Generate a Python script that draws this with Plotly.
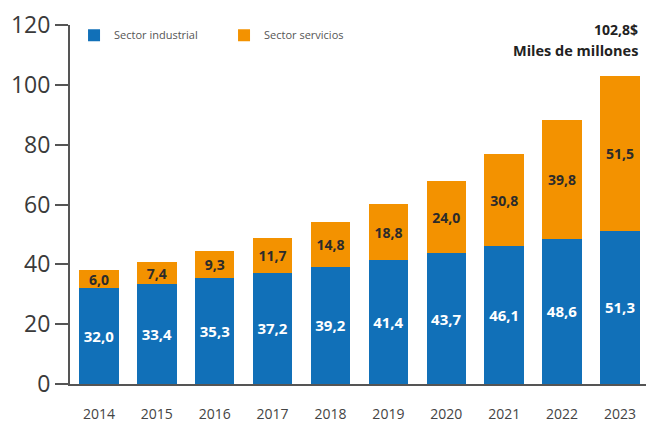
import plotly.graph_objects as go

years = ["2014", "2015", "2016", "2017", "2018", "2019", "2020", "2021", "2022", "2023"]
industrial = [32.0, 33.4, 35.3, 37.2, 39.2, 41.4, 43.7, 46.1, 48.6, 51.3]
servicios = [6.0, 7.4, 9.3, 11.7, 14.8, 18.8, 24.0, 30.8, 39.8, 51.5]
y_ticks = [0, 20, 40, 60, 80, 100, 120]

BLUE = "#1170b8"
ORANGE = "#f39200"
AXIS = "#555555"
FONT = "Open Sans"

total_last = industrial[-1] + servicios[-1]

fig = go.Figure()
fig.add_trace(go.Bar(
    x=years, y=industrial, name="Sector industrial",
    marker=dict(color=BLUE, line=dict(width=0)),
    texttemplate="%{y:.1f}", textposition="inside", insidetextanchor="middle",
    textangle=0, constraintext="none",
    textfont=dict(family=FONT, size=15, color="white", weight="bold"),
))
fig.add_trace(go.Bar(
    x=years, y=servicios, name="Sector servicios",
    marker=dict(color=ORANGE, line=dict(width=0)),
    texttemplate="%{y:.1f}", textposition="inside", insidetextanchor="middle",
    textangle=0, constraintext="none",
    textfont=dict(family=FONT, size=14, color="#2b2b2b", weight="bold"),
))

fig.update_layout(
    barmode="stack",
    bargap=0.32,
    width=646, height=423,
    margin=dict(l=70, r=0, t=25, b=39, autoexpand=False),
    paper_bgcolor="white", plot_bgcolor="white",
    separators=",.",
    font=dict(family=FONT, color="#444444"),
    showlegend=True,
    legend=dict(
        orientation="h", x=0.007, y=1.012, xanchor="left", yanchor="top",
        font=dict(family=FONT, size=11, color="#555555"),
        entrywidth=105, entrywidthmode="pixels",
        bgcolor="rgba(0,0,0,0)", traceorder="normal",
    ),
    xaxis=dict(
        range=[-0.5, 9.45], showline=True, linecolor=AXIS, linewidth=2,
        ticks="", showgrid=False, ticklabelstandoff=16, automargin=False,
        tickfont=dict(family=FONT, size=14, color="#444444"),
    ),
    yaxis=dict(
        range=[0, 120], tickvals=y_ticks, showline=True, linecolor=AXIS, linewidth=2,
        ticks="outside", ticklen=13, tickwidth=2, tickcolor=AXIS,
        showgrid=False, zeroline=False, automargin=False,
        tickfont=dict(family=FONT, size=23, color="#3a3a3a"),
    ),
    annotations=[
        dict(x=1, y=0.987, xref="paper", yref="paper", xanchor="right", yanchor="middle",
             xshift=-6, showarrow=False,
             text=f"{total_last:.1f}".replace(".", ",") + "$",
             font=dict(family=FONT, size=14, color="#222222", weight="bold")),
        dict(x=1, y=0.928, xref="paper", yref="paper", xanchor="right", yanchor="middle",
             xshift=-6, showarrow=False, text="Miles de millones",
             font=dict(family=FONT, size=14.5, color="#222222", weight="bold")),
    ],
)

fig.write_html("out.html")
